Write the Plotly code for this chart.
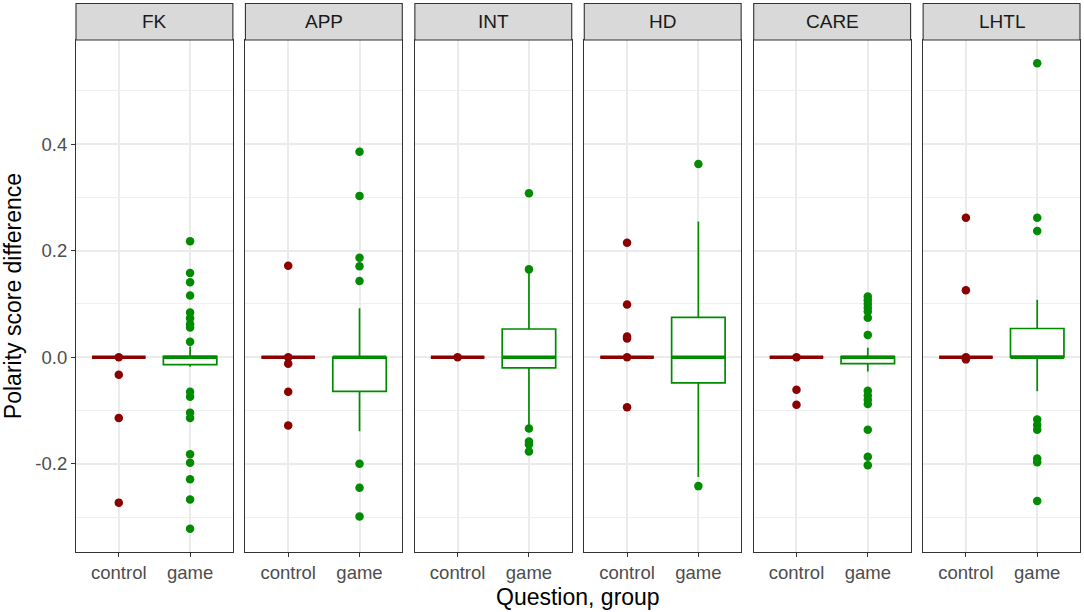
import plotly.graph_objects as go
from plotly.subplots import make_subplots

# preguntas (facetas) y grupos
questions = ["FK", "APP", "INT", "HD", "CARE", "LHTL"]
groups = ["control", "game"]
y_ticks = [-0.2, 0.0, 0.2, 0.4]

# estadisticos de las cajas: q1, mediana, q3, bigote inferior, bigote superior
control_stats = {
    "FK": [0, 0, 0, 0, 0],
    "APP": [0, 0, 0, 0, 0],
    "INT": [0, 0, 0, 0, 0],
    "HD": [0, 0, 0, 0, 0],
    "CARE": [0, 0, 0, 0, 0],
    "LHTL": [0, 0, 0, 0, 0],
}
game_stats = {
    "FK": [-0.014, 0, 0.0015, -0.018, 0.02],
    "APP": [-0.064, 0, 0, -0.139, 0.092],
    "INT": [-0.02, 0, 0.053, -0.134, 0.165],
    "HD": [-0.048, 0, 0.075, -0.225, 0.255],
    "CARE": [-0.012, 0, 0.001, -0.027, 0.018],
    "LHTL": [0, 0, 0.054, -0.064, 0.108],
}

# puntos (outliers) por pregunta
control_points = {
    "FK": [0, -0.033, -0.114, -0.273],
    "APP": [0.172, 0, -0.012, -0.065, -0.128],
    "INT": [0],
    "HD": [0.215, 0.099, 0.039, 0.035, 0, -0.094],
    "CARE": [0, -0.061, -0.089],
    "LHTL": [0.262, 0.126, 0, -0.004],
}
game_points = {
    "FK": [0.218, 0.158, 0.141, 0.116, 0.084, 0.073, 0.062, 0.056, 0.029,
           -0.065, -0.074, -0.104, -0.114, -0.182, -0.198, -0.229, -0.267, -0.322],
    "APP": [0.386, 0.303, 0.187, 0.171, 0.143, -0.2, -0.245, -0.299],
    "INT": [0.308, 0.165, -0.134, -0.158, -0.164, -0.177],
    "HD": [0.363, -0.242],
    "CARE": [0.114, 0.107, 0.100, 0.093, 0.086, 0.074, 0.042,
             -0.063, -0.072, -0.080, -0.088, -0.136, -0.187, -0.203],
    "LHTL": [0.552, 0.262, 0.237, -0.117, -0.127, -0.136, -0.19, -0.197, -0.27],
}

colors = {"control": "#8B0000", "game": "#008B00"}
BOX_W = 0.75
STRIP = 36.5 / 512  # alto de la franja en fraccion del panel

fig = make_subplots(rows=1, cols=6, shared_yaxes=True, horizontal_spacing=0.0125)

# rango y como ggplot (expansion 5%)
all_vals = []
for q in questions:
    all_vals += control_points[q] + game_points[q] + control_stats[q] + game_stats[q]
lo, hi = min(all_vals), max(all_vals)
pad = 0.05 * (hi - lo)

for i, q in enumerate(questions):
    col = i + 1
    for j, g in enumerate(groups):
        pos = j + 1
        st = control_stats[q] if g == "control" else game_stats[q]
        fig.add_trace(go.Box(
            x=[pos], q1=[st[0]], median=[st[1]], q3=[st[2]],
            lowerfence=[st[3]], upperfence=[st[4]],
            width=BOX_W, fillcolor="white", whiskerwidth=0,
            line=dict(color=colors[g], width=1.7),
            boxpoints=False, showlegend=False, hoverinfo="skip"
        ), row=1, col=col)
    for j, g in enumerate(groups):
        pos = j + 1
        st = control_stats[q] if g == "control" else game_stats[q]
        pts = control_points[q] if g == "control" else game_points[q]
        # mediana gruesa
        fig.add_trace(go.Scatter(
            x=[pos - BOX_W / 2, pos + BOX_W / 2], y=[st[1], st[1]],
            mode="lines", line=dict(color=colors[g], width=3.6),
            showlegend=False, hoverinfo="skip"
        ), row=1, col=col)
        fig.add_trace(go.Scatter(
            x=[pos] * len(pts), y=pts, mode="markers",
            marker=dict(color=colors[g], size=8.5, line=dict(width=0)),
            showlegend=False
        ), row=1, col=col)

    xname = "x" if col == 1 else f"x{col}"
    yname = "y" if col == 1 else f"y{col}"
    # franja gris con el titulo
    fig.add_shape(type="rect", xref=f"{xname} domain", yref=f"{yname} domain",
                  x0=0, x1=1, y0=1, y1=1 + STRIP,
                  fillcolor="#D9D9D9", line=dict(color="#333333", width=1.1), layer="above")
    fig.add_annotation(text=q, xref=f"{xname} domain", yref=f"{yname} domain",
                       x=0.5, y=1 + STRIP / 2, showarrow=False,
                       font=dict(size=19, color="#1A1A1A"), xanchor="center", yanchor="middle")

fig.update_xaxes(
    range=[0.4, 2.6], tickvals=[1, 2], ticktext=groups,
    showgrid=True, gridcolor="#EBEBEB", gridwidth=1.5, zeroline=False,
    showline=True, mirror=True, linecolor="#333333", linewidth=1.1,
    ticks="outside", ticklen=4, tickcolor="#333333", tickwidth=1.3,
    tickfont=dict(size=18.5, color="#4D4D4D"),
)
fig.update_yaxes(
    range=[lo - pad, hi + pad], tickvals=y_ticks, ticktext=[f"{v:.1f}" for v in y_ticks],
    showgrid=True, gridcolor="#EBEBEB", gridwidth=1.5, zeroline=False,
    minor=dict(dtick=0.1, tick0=0, showgrid=True, gridcolor="#EFEFEF", gridwidth=0.9),
    showline=True, mirror=True, linecolor="#333333", linewidth=1.1,
    tickfont=dict(size=18.5, color="#4D4D4D"),
)
fig.update_yaxes(ticks="outside", ticklen=4, tickcolor="#333333", tickwidth=1.3,
                 automargin=False, row=1, col=1)
fig.update_yaxes(title=dict(text="Polarity score difference", font=dict(size=23, color="black"),
                            standoff=8), row=1, col=1)

fig.add_annotation(text="Question, group", xref="paper", yref="paper", x=0.5, y=-0.088,
                   showarrow=False, font=dict(size=23, color="black"),
                   xanchor="center", yanchor="middle")

fig.update_layout(
    width=1084, height=612,
    margin=dict(l=76, r=4, t=40, b=60, autoexpand=False),
    plot_bgcolor="white", paper_bgcolor="white",
    boxmode="overlay",
    font=dict(family="Liberation Sans, Arial, sans-serif"),
)

fig.write_html("out.html", config={"displayModeBar": False},
               post_script="document.body.style.margin='0';")
